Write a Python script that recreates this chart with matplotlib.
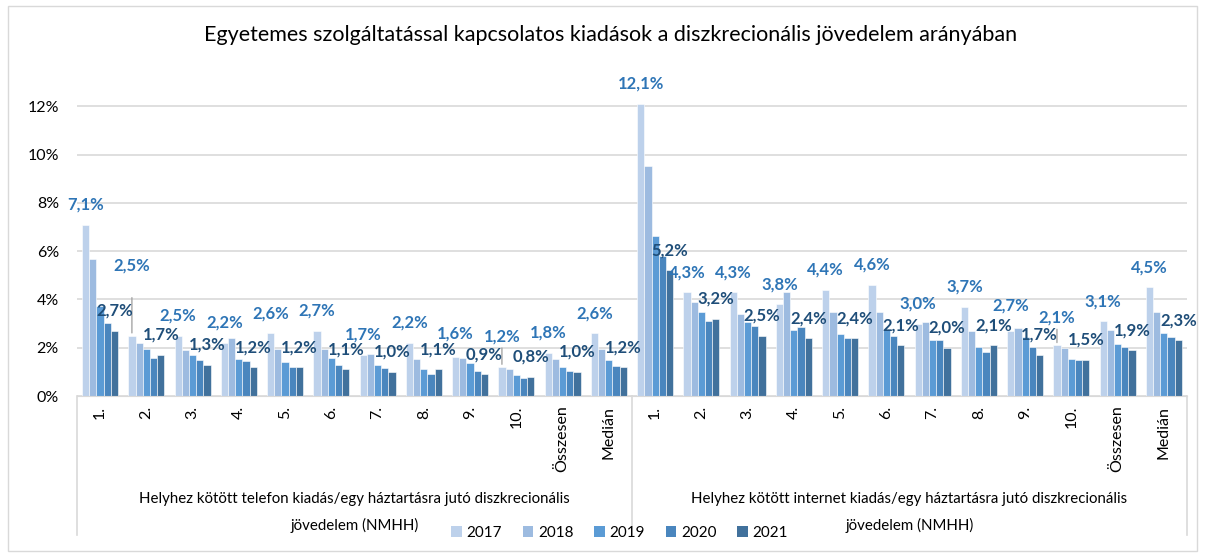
import matplotlib.pyplot as plt
import numpy as np
from matplotlib.patches import Patch, Rectangle
from matplotlib.transforms import blended_transform_factory

plt.rcParams['font.family'] = ['Lato', 'DejaVu Sans']

## category labels (same 12 for each of the two blocks)
categories = ['1.', '2.', '3.', '4.', '5.', '6.', '7.', '8.', '9.', '10.', 'Összesen', 'Medián']
groups = [('Helyhez kötött telefon kiadás/egy háztartásra jutó diszkrecionális', 'jövedelem (NMHH)'),
          ('Helyhez kötött internet kiadás/egy háztartásra jutó diszkrecionális', 'jövedelem (NMHH)')]
years = ['2017', '2018', '2019', '2020', '2021']

## values in %, telefon block then internet block
v2017 = [7.1, 2.5, 2.5, 2.2, 2.6, 2.7, 1.7, 2.2, 1.6, 1.2, 1.8, 2.6,
         12.1, 4.3, 4.3, 3.8, 4.4, 4.6, 3.0, 3.7, 2.7, 2.1, 3.1, 4.5]
v2018 = [5.67, 2.18, 1.89, 2.4, 1.93, 1.95, 1.72, 1.52, 1.57, 1.12, 1.53, 1.95,
         9.52, 3.89, 3.38, 4.29, 3.48, 3.46, 3.05, 2.70, 2.83, 1.99, 2.74, 3.46]
v2019 = [3.72, 1.96, 1.71, 1.52, 1.42, 1.56, 1.30, 1.13, 1.38, 0.86, 1.22, 1.48,
         6.62, 3.48, 3.07, 2.74, 2.56, 2.72, 2.30, 2.01, 2.43, 1.54, 2.17, 2.62]
v2020 = [3.04, 1.57, 1.48, 1.44, 1.22, 1.27, 1.17, 0.91, 1.03, 0.76, 1.03, 1.23,
         5.79, 3.10, 2.92, 2.87, 2.42, 2.48, 2.33, 1.81, 2.04, 1.50, 2.04, 2.46]
v2021 = [2.7, 1.7, 1.3, 1.2, 1.2, 1.1, 1.0, 1.1, 0.9, 0.8, 1.0, 1.2,
         5.2, 3.2, 2.5, 2.4, 2.4, 2.1, 2.0, 2.1, 1.7, 1.5, 1.9, 2.3]

values = [v2017, v2018, v2019, v2020, v2021]
colors = ['#BDD1EB', '#9DBBE0', '#5B9BD5', '#4A86BE', '#41719C']
label_2017 = '#2E75B6'
label_2021 = '#1F4E79'

## 2017 labels that were dragged up in the original (offset in px, with a leader line)
moved = {1: 70, 9: 31, 21: 28}
nudged = {8: 24, 20: 25}

fig = plt.figure(figsize=(12.1, 5.57), dpi=100)
ax = fig.add_axes([0.0636, 0.289, 0.9174, 0.531])

n = len(v2017)
x = np.arange(n)
w = 0.156

## draw the bars
for i, vals in enumerate(values):
    ax.bar(x + (i - 2) * w, vals, width=w, color=colors[i], edgecolor='white',
           linewidth=0.4, label=years[i], zorder=2)

## data labels for 2017 and 2021
for j in range(n):
    off = moved.get(j, nudged.get(j, 20))
    ax.annotate(f"{v2017[j]:.1f}%".replace('.', ','), (x[j] - 2 * w, v2017[j]),
                xytext=(0, off), textcoords='offset pixels', ha='center', va='center',
                color=label_2017, fontsize=12, fontweight='bold', zorder=4)
    ax.annotate(f"{v2021[j]:.1f}%".replace('.', ','), (x[j] + 2 * w, v2021[j]),
                xytext=(0, 20), textcoords='offset pixels', ha='center', va='center',
                color=label_2021, fontsize=12, fontweight='bold', zorder=4)

## leader lines for the moved labels
for j, off in moved.items():
    top = 38 if j == 1 else off - 12
    ax.annotate('', (x[j] - 2 * w, v2017[j]), xytext=(0, top), textcoords='offset pixels',
                arrowprops=dict(arrowstyle='-', color='#A6A6A6', lw=1, shrinkA=0, shrinkB=2))

## axes styling
ax.set_xlim(-0.5, n - 0.5)
ax.set_ylim(0, 12.25)
ax.set_yticks(np.arange(0, 13, 2))
ax.set_yticklabels([f"{t}%" for t in range(0, 13, 2)], fontsize=11.5)
ax.yaxis.grid(True, color='#D9D9D9', linewidth=1.2, zorder=0)
ax.set_axisbelow(True)
for s in ['top', 'right', 'left']:
    ax.spines[s].set_visible(False)
ax.spines['bottom'].set_color('#D9D9D9')
ax.tick_params(axis='y', length=0, pad=13)
ax.tick_params(axis='x', length=0, pad=7)
ax.set_xticks(x)
ax.set_xticklabels(categories * 2, rotation=90, fontsize=11.5, va='top')

## separators between the two blocks, running down past the labels
for xs in [-0.5, 11.5, 23.5]:
    ax.axvline(xs, ymin=-0.47, ymax=0, color='#D9D9D9', linewidth=1.2, clip_on=False)

## group labels under the category labels (two lines each)
tr = blended_transform_factory(ax.transData, fig.transFigure)
for k, (line1, line2) in enumerate(groups):
    cx = 5.5 + 12 * k
    ax.text(cx, 0.104, line1, transform=tr, ha='center', va='center', fontsize=10.8)
    ax.text(cx, 0.0575, line2, transform=tr, ha='center', va='center', fontsize=10.8)

## title
fig.text(0.505, 0.937, 'Egyetemes szolgáltatással kapcsolatos kiadások a diszkrecionális jövedelem arányában',
         ha='center', va='center', fontsize=15.5)

## legend
handles = [Patch(facecolor=colors[i], edgecolor='none') for i in range(5)]
fig.legend(handles, years, loc='center', bbox_to_anchor=(0.512, 0.043), ncol=5,
           frameon=False, fontsize=11, handlelength=0.7, handleheight=0.7,
           handletextpad=0.3, columnspacing=1.35)

## outer border
fig.patches.append(Rectangle((8 / 1210, 6 / 557), 1189 / 1210, 545 / 557, transform=fig.transFigure,
                             fill=False, edgecolor='#D9D9D9', linewidth=1))

fig.savefig('out.png', dpi=100)
